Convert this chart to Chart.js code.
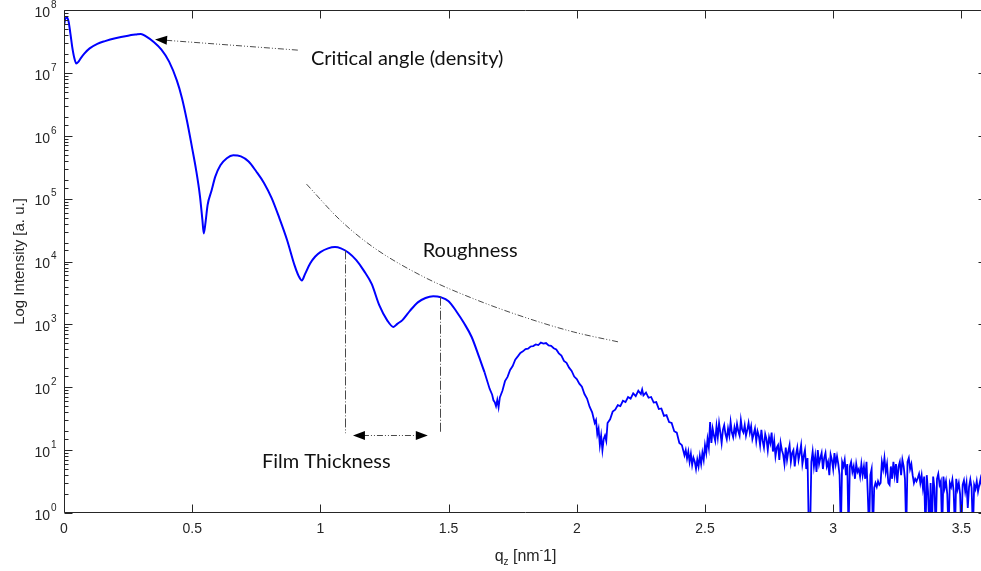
<!DOCTYPE html>
<html>
<head>
<meta charset="utf-8">
<script src="https://cdn.jsdelivr.net/npm/chart.js@4.4.1/dist/chart.umd.min.js"></script>
<style>
	html, body { margin: 0; padding: 0; background: #fff; overflow: hidden; }
	canvas { display: block; }
</style>
</head>
<body>
<canvas id="reflectivity" width="990" height="571"></canvas>
<script>
// reflectivity curve, low q part (Kiessig fringes)
const qzFringes = [0.000, 0.005, 0.012, 0.018, 0.025, 0.032, 0.040, 0.048, 0.055, 0.065,
	0.08, 0.10, 0.13, 0.16, 0.20, 0.25, 0.28, 0.30, 0.32, 0.35,
	0.38, 0.41, 0.44, 0.46, 0.48, 0.50, 0.515, 0.53, 0.54, 0.545,
	0.552, 0.56, 0.575, 0.59, 0.61, 0.635, 0.66, 0.69, 0.72, 0.75,
	0.78, 0.81, 0.84, 0.87, 0.90, 0.915, 0.928, 0.94, 0.96, 0.98,
	1.00, 1.03, 1.057, 1.08, 1.11, 1.14, 1.17, 1.20, 1.23, 1.26,
	1.285, 1.30, 1.32, 1.35, 1.38, 1.41, 1.44, 1.47, 1.50, 1.53,
	1.56, 1.59, 1.62, 1.64]
const intensityFringes = [5.6e7, 7.2e7, 7.6e7, 6.5e7, 4.2e7, 2.6e7, 1.74e7, 1.41e7, 1.48e7, 1.7e7,
	2.04e7, 2.45e7, 2.9e7, 3.2e7, 3.55e7, 3.9e7, 4.07e7, 4.17e7, 3.8e7, 3.1e7,
	2.34e7, 1.51e7, 7.6e6, 4.0e6, 1.7e6, 6.3e5, 2.9e5, 1.12e5, 4.5e4, 2.8e4,
	4.2e4, 7.9e4, 1.32e5, 2.24e5, 3.4e5, 4.4e5, 4.9e5, 4.7e5, 3.9e5, 2.7e5,
	1.78e5, 1.02e5, 4.9e4, 2.2e4, 8.5e3, 5.9e3, 5.0e3, 6.3e3, 9.3e3, 1.2e4,
	1.41e4, 1.62e4, 1.7e4, 1.62e4, 1.38e4, 1.05e4, 7.1e3, 4.4e3, 2.0e3, 1.17e3,
	910, 1020, 1170, 1660, 2240, 2630, 2800, 2700, 2340, 1620,
	1050, 630, 295, 174]

// middle part, fourth and fifth fringe
const qzTail = [1.66, 1.67, 1.675, 1.68, 1.685, 1.69, 1.695, 1.70, 1.71, 1.72,
	1.73, 1.74, 1.75, 1.76, 1.77, 1.78, 1.79, 1.80, 1.81, 1.82,
	1.83, 1.84, 1.85, 1.86, 1.87, 1.88, 1.89, 1.90, 1.91, 1.92,
	1.93, 1.94, 1.95, 1.96, 1.97, 1.98, 1.99, 2.00, 2.01, 2.02,
	2.03, 2.04, 2.05, 2.06, 2.07, 2.075, 2.08, 2.085, 2.09, 2.095,
	2.10, 2.105, 2.11, 2.115, 2.12, 2.13, 2.14, 2.15, 2.16, 2.17,
	2.18, 2.19, 2.20, 2.21, 2.22, 2.23, 2.24, 2.25, 2.255, 2.26,
	2.27, 2.28, 2.29, 2.30, 2.31, 2.32, 2.33, 2.34, 2.35, 2.36,
	2.37, 2.38, 2.39, 2.40]
const intensityTail = [95, 76, 62, 58, 50, 63, 48, 69, 88, 125,
	146, 188, 218, 275, 310, 352, 372, 405, 410, 445,
	452, 480, 468, 512, 495, 505, 462, 455, 418, 398,
	346, 318, 262, 245, 205, 182, 148, 135, 114, 102,
	78, 66, 49, 40, 27, 30, 18, 22, 12, 17,
	10, 15, 17, 14, 27, 31, 41, 44, 52, 50,
	61, 58, 70, 66, 80, 72, 88, 78, 92, 74,
	82, 68, 70, 57, 58, 45, 46, 35, 36, 28,
	27, 20, 19, 13]

// high q, counting noise
const qzNoise = [2.41, 2.42, 2.425, 2.43, 2.435, 2.44, 2.445, 2.45, 2.455, 2.46,
	2.465, 2.47, 2.475, 2.48, 2.485, 2.49, 2.495, 2.50, 2.505, 2.51,
	2.515, 2.52, 2.525, 2.53, 2.535, 2.54, 2.545, 2.55, 2.555, 2.56,
	2.565, 2.57, 2.575, 2.58, 2.585, 2.59, 2.595, 2.60, 2.605, 2.61,
	2.615, 2.62, 2.625, 2.63, 2.635, 2.64, 2.645, 2.65, 2.655, 2.66,
	2.665, 2.67, 2.675, 2.68, 2.685, 2.69, 2.695, 2.70, 2.705, 2.71,
	2.715, 2.72, 2.725, 2.73, 2.735, 2.74, 2.745, 2.75, 2.755, 2.76,
	2.765, 2.77, 2.775, 2.78, 2.785, 2.79, 2.795, 2.80, 2.805, 2.81,
	2.815, 2.82, 2.825, 2.83, 2.835, 2.84, 2.845, 2.85, 2.855, 2.86,
	2.865, 2.87, 2.875, 2.88, 2.885, 2.89, 2.895, 2.90, 2.905, 2.91,
	2.915, 2.92, 2.925, 2.93, 2.935, 2.94, 2.945, 2.95, 2.955, 2.96,
	2.965, 2.97, 2.975, 2.98, 2.985, 2.99, 2.995, 3.00, 3.005, 3.01,
	3.015, 3.02, 3.025, 3.03, 3.035, 3.04, 3.045, 3.05, 3.055, 3.06,
	3.065, 3.07, 3.075, 3.08, 3.085, 3.09, 3.095, 3.10, 3.105, 3.11,
	3.115, 3.12, 3.125, 3.13, 3.135, 3.14, 3.145, 3.15, 3.155, 3.16,
	3.165, 3.17, 3.175, 3.18, 3.185, 3.19, 3.195, 3.20, 3.205, 3.21,
	3.215, 3.22, 3.225, 3.23, 3.235, 3.24, 3.245, 3.25, 3.255, 3.26,
	3.265, 3.27, 3.275, 3.28, 3.285, 3.29, 3.295, 3.30, 3.305, 3.31,
	3.315, 3.32, 3.325, 3.33, 3.335, 3.34, 3.345, 3.35, 3.355, 3.36,
	3.365, 3.37, 3.375, 3.38, 3.385, 3.39, 3.395, 3.40, 3.405, 3.41,
	3.415, 3.42, 3.425, 3.43, 3.435, 3.44, 3.445, 3.45, 3.455, 3.46,
	3.465, 3.47, 3.475, 3.48, 3.485, 3.49, 3.495, 3.50, 3.505, 3.51,
	3.515, 3.52, 3.525, 3.53, 3.535, 3.54, 3.545, 3.55, 3.555, 3.56,
	3.565, 3.57, 3.575, 3.58, 3.59, 3.60]
const intensityNoise = [12, 8.3, 10, 7.4, 9.5, 6.5, 8.7, 5.8, 7.6, 6.6,
	5.0, 7.1, 5.5, 8.1, 6.0, 9.1, 7.0, 12, 9.0, 15,
	11, 28, 13, 22, 17, 14, 24, 16, 27, 19,
	13, 21, 25, 18, 15, 22, 17, 28, 19, 16,
	23, 18, 26, 20, 17, 30, 21, 19, 25, 17,
	21, 27, 19, 24, 15, 18, 22, 14, 20, 17,
	12, 21, 14, 11, 18, 15, 10, 16, 13, 19,
	9.5, 14, 8.0, 11, 12, 7.0, 13, 10, 8.5, 6.0,
	11, 7.0, 9.5, 12, 6.5, 9.0, 10, 5.5, 8.5, 11,
	7.0, 9.0, 12, 6.0, 8.0, 10, 5.0, 7.5, 0.5, 0.5,
	6.5, 9.5, 5.5, 8.0, 4.5, 10, 6.0, 7.5, 9.0, 5.0,
	7.5, 9.0, 5.5, 6.5, 4.0, 8.5, 7.0, 5.0, 9.0, 6.0,
	8.0, 6.0, 4.0, 0.5, 6.5, 5.5, 7.0, 4.0, 6.0, 0.5,
	5.5, 6.5, 4.5, 5.5, 3.5, 6.0, 4.5, 5.0, 3.8, 6.0,
	4.0, 5.5, 3.5, 6.5, 2.0, 0.5, 4.0, 5.0, 0.5, 2.5,
	3.0, 2.6, 3.2, 2.8, 3.0, 6.5, 5.0, 7.5, 4.5, 6.0,
	3.0, 2.8, 5.5, 3.5, 6.5, 4.0, 6.0, 3.0, 5.5, 6.5,
	4.0, 7.0, 5.5, 3.5, 0.5, 6.5, 7.5, 5.0, 6.0, 4.0,
	3.0, 3.5, 3.2, 3.6, 4.2, 3.0, 4.0, 2.5, 3.8, 0.5,
	4.0, 2.2, 0.5, 3.0, 0.5, 3.8, 2.5, 0.5, 3.5, 4.2,
	2.8, 3.2, 0.5, 3.8, 2.5, 3.2, 2.0, 0.5, 3.0, 2.6,
	3.4, 2.2, 0.5, 3.5, 2.4, 3.0, 2.0, 0.5, 2.8, 3.3,
	2.2, 3.0, 1.2, 2.6, 3.4, 2.5, 0.5, 2.8, 2.4, 3.2,
	2.2, 2.8, 3.5, 2.6, 3.0, 2.8]

// x axis ticks
const qzTicks = [0, 0.5, 1, 1.5, 2, 2.5, 3, 3.5]

// annotation guides, in data units
const roughnessQz = [0.946, 1.076, 1.205, 1.401, 1.596, 1.791, 1.986, 2.168]
const roughnessIntensity = [1.7e5, 4.6e4, 1.7e4, 5.75e3, 2.57e3, 1.32e3, 760, 520]
const criticalArrowQz = [0.912, 0.355]
const criticalArrowIntensity = [2.3e7, 3.4e7]
const thicknessPeaksQz = [1.096, 1.466]
const thicknessPeaksIntensity = [1.5e4, 2.75e3]
const thicknessBaseIntensity = 18.6
const thicknessArrowQz = [1.127, 1.419]
const thicknessArrowIntensity = 17.4

const labels = [
	{ text: 'Critical angle (density)', qz: 0.963, intensity: 1.7e7 },
	{ text: 'Roughness', qz: 1.399, intensity: 1.47e4 },
	{ text: 'Film Thickness', qz: 0.772, intensity: 6.5 },
]

const axisColor = '#262626'
const blue = '#0000ff'
const helvetica = '"Liberation Sans", Arial, sans-serif'
const calibri = 'Lato, "Open Sans", sans-serif'

function toPoints(xs, ys) {
	return xs.map((q, i) => ({ x: q, y: ys[i] }))
}

function arrowHead(ctx, x, y, angle, len, half) {
	ctx.save()
	ctx.translate(x, y)
	ctx.rotate(angle)
	ctx.beginPath()
	ctx.moveTo(0, 0)
	ctx.lineTo(-len, -half)
	ctx.lineTo(-len, half)
	ctx.closePath()
	ctx.fill()
	ctx.restore()
}

function dashLine(ctx, x1, y1, x2, y2, dash) {
	ctx.save()
	ctx.setLineDash(dash)
	ctx.beginPath()
	ctx.moveTo(x1, y1)
	ctx.lineTo(x2, y2)
	ctx.stroke()
	ctx.restore()
}

const isDecade = (v) => Math.abs(Math.log10(v) - Math.round(Math.log10(v))) < 1e-9

// box, inward ticks, decade labels, titles and annotations
const matlabAxes = {
	id: 'matlabAxes',
	afterDatasetsDraw(chart) {
		const { ctx, chartArea: a, scales: { x, y } } = chart
		const L = Math.round(a.left) + 0.5
		const R = Math.round(a.right) - 0.5
		const T = Math.round(a.top) + 0.5
		const B = Math.round(a.bottom) - 0.5

		ctx.save()
		ctx.strokeStyle = axisColor
		ctx.lineWidth = 1
		ctx.beginPath()
		ctx.moveTo(L, T); ctx.lineTo(R, T); ctx.lineTo(R, B); ctx.lineTo(L, B); ctx.closePath()
		ctx.stroke()

		ctx.beginPath()
		x.ticks.forEach((t) => {
			const px = Math.round(x.getPixelForValue(t.value)) + 0.5
			ctx.moveTo(px, B); ctx.lineTo(px, B - 8)
			ctx.moveTo(px, T); ctx.lineTo(px, T + 8)
		})
		y.ticks.forEach((t) => {
			const len = isDecade(t.value) ? 8 : 4
			const py = Math.round(y.getPixelForValue(t.value)) + 0.5
			ctx.moveTo(L, py); ctx.lineTo(L + len, py)
			ctx.moveTo(R, py); ctx.lineTo(R - len, py)
		})
		ctx.stroke()

		// 10^n labels
		ctx.fillStyle = axisColor
		ctx.textBaseline = 'middle'
		y.ticks.filter((t) => isDecade(t.value)).forEach((t) => {
			const py = y.getPixelForValue(t.value)
			ctx.font = `14px ${helvetica}`
			ctx.textAlign = 'right'
			ctx.fillText('10', a.left - 14, py + 3)
			ctx.font = `10px ${helvetica}`
			ctx.textAlign = 'left'
			ctx.fillText(String(Math.round(Math.log10(t.value))), a.left - 13, py - 5)
		})

		// y title
		ctx.save()
		ctx.translate(20, (a.top + a.bottom) / 2)
		ctx.rotate(-Math.PI / 2)
		ctx.font = `15px ${helvetica}`
		ctx.textAlign = 'center'
		ctx.fillText('Log Intensity [a. u.]', 0, 0)
		ctx.restore()

		// x title: q_z [nm^-1]
		const parts = [
			{ s: 'q', size: 16, dy: 0 },
			{ s: 'z', size: 10, dy: 4 },
			{ s: ' [nm', size: 16, dy: 0 },
			{ s: '-', size: 10, dy: -8 },
			{ s: '1]', size: 16, dy: 0 },
		]
		ctx.textAlign = 'left'
		ctx.textBaseline = 'alphabetic'
		let total = 0
		parts.forEach((p) => {
			ctx.font = `${p.size}px ${helvetica}`
			p.w = ctx.measureText(p.s).width
			total += p.w
		})
		let cx = (a.left + a.right) / 2 - total / 2
		parts.forEach((p) => {
			ctx.font = `${p.size}px ${helvetica}`
			ctx.fillText(p.s, cx, 561 + p.dy)
			cx += p.w
		})

		// critical angle arrow
		ctx.strokeStyle = '#4a4a4a'
		ctx.fillStyle = '#000'
		const cx1 = x.getPixelForValue(criticalArrowQz[0])
		const cy1 = y.getPixelForValue(criticalArrowIntensity[0])
		const cx2 = x.getPixelForValue(criticalArrowQz[1])
		const cy2 = y.getPixelForValue(criticalArrowIntensity[1])
		const ang = Math.atan2(cy2 - cy1, cx2 - cx1)
		dashLine(ctx, cx1, cy1, cx2 - 10 * Math.cos(ang), cy2 - 10 * Math.sin(ang), [6, 2, 1, 2, 1, 2])
		arrowHead(ctx, cx2, cy2, ang, 12, 4.5)

		// film thickness guides
		const yBase = y.getPixelForValue(thicknessBaseIntensity)
		thicknessPeaksQz.forEach((q, i) => {
			const px = Math.round(x.getPixelForValue(q)) + 0.5
			dashLine(ctx, px, y.getPixelForValue(thicknessPeaksIntensity[i]), px, yBase, [9, 2, 1, 2])
		})
		const ax1 = x.getPixelForValue(thicknessArrowQz[0])
		const ax2 = x.getPixelForValue(thicknessArrowQz[1])
		const ay = Math.round(y.getPixelForValue(thicknessArrowIntensity)) + 0.5
		dashLine(ctx, ax1 + 10, ay, ax2 - 10, ay, [6, 2, 1, 2, 1, 2])
		arrowHead(ctx, ax1, ay, Math.PI, 12, 4.5)
		arrowHead(ctx, ax2, ay, 0, 12, 4.5)

		// annotation text
		ctx.fillStyle = '#111'
		ctx.font = `20px ${calibri}`
		ctx.textAlign = 'left'
		ctx.textBaseline = 'middle'
		labels.forEach((l) => {
			ctx.fillText(l.text, x.getPixelForValue(l.qz), y.getPixelForValue(l.intensity))
		})
		ctx.restore()
	},
}

const fringePoints = toPoints(qzFringes, intensityFringes)
// the noisy part continues from the last smooth point
const noisyPoints = fringePoints.slice(-1)
	.concat(toPoints(qzTail, intensityTail))
	.concat(toPoints(qzNoise, intensityNoise))

new Chart(document.getElementById('reflectivity').getContext('2d'), {
	type: 'line',
	data: {
		datasets: [
			{
				label: 'Reflectivity',
				data: fringePoints,
				borderColor: blue,
				borderWidth: 2,
				pointRadius: 0,
				cubicInterpolationMode: 'monotone',
				clip: 0,
			},
			{
				label: 'Reflectivity (high q)',
				data: noisyPoints,
				borderColor: blue,
				borderWidth: 1.8,
				pointRadius: 0,
				tension: 0,
				clip: 0,
			},
			{
				label: 'Roughness',
				data: toPoints(roughnessQz, roughnessIntensity),
				borderColor: '#4a4a4a',
				borderWidth: 1,
				borderDash: [6, 2, 1, 2, 1, 2],
				pointRadius: 0,
				cubicInterpolationMode: 'monotone',
			},
		],
	},
	options: {
		responsive: false,
		animation: false,
		layout: { padding: { top: 10, right: 3, left: 0, bottom: 0 } },
		plugins: {
			legend: { display: false },
			tooltip: { enabled: false },
		},
		scales: {
			x: {
				type: 'linear',
				min: 0,
				max: 3.6,
				grid: { display: false, drawTicks: false },
				border: { display: false },
				afterBuildTicks: (scale) => {
					scale.ticks = qzTicks.map((v) => ({ value: v }))
				},
				ticks: {
					padding: 8,
					color: axisColor,
					maxRotation: 0,
					autoSkip: false,
					font: { family: helvetica, size: 14 },
					callback: (v) => String(v),
				},
				afterFit: (scale) => { scale.height = 58 },
			},
			y: {
				type: 'logarithmic',
				min: 1,
				max: 1e8,
				grid: { display: false, drawTicks: false },
				border: { display: false },
				ticks: { display: false },
				afterFit: (scale) => { scale.width = 64 },
			},
		},
	},
	plugins: [matlabAxes],
})
</script>
</body>
</html>
